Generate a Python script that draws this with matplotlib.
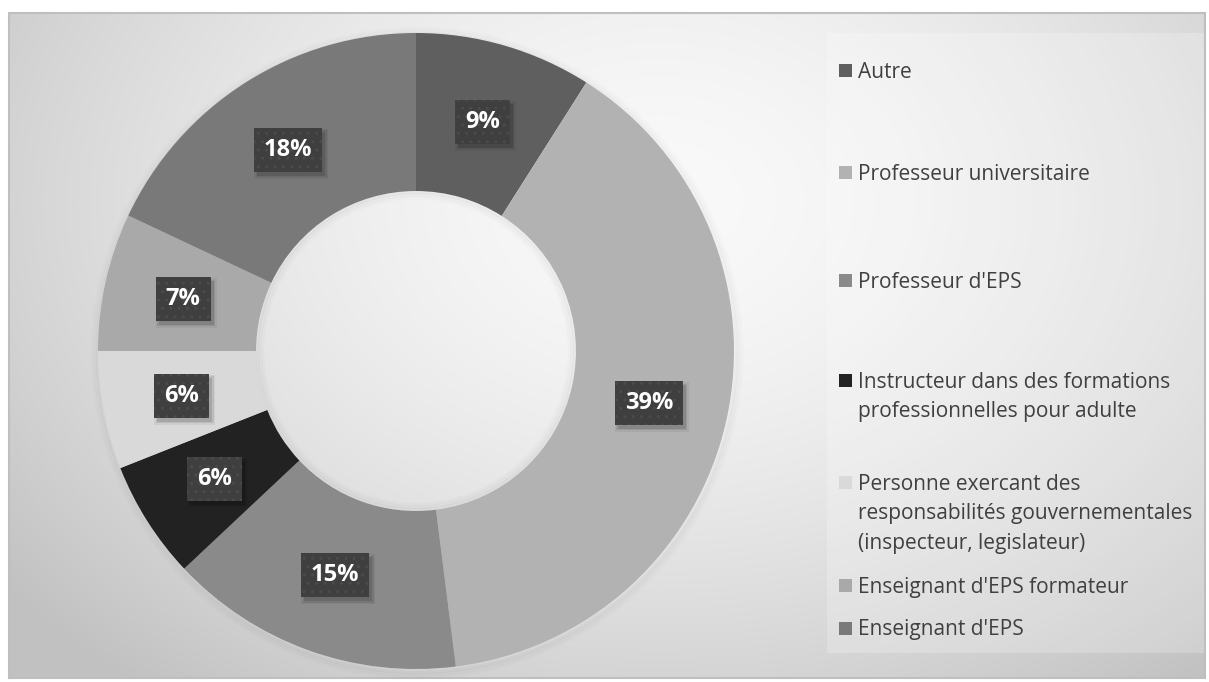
import numpy as np
import matplotlib
matplotlib.use("Agg")
import matplotlib.pyplot as plt
from matplotlib.patches import Rectangle, Circle

categories = [
    "Autre",
    "Professeur universitaire",
    "Professeur d'EPS",
    "Instructeur dans des formations\nprofessionnelles pour adulte",
    "Personne exercant des\nresponsabilités gouvernementales\n(inspecteur, legislateur)",
    "Enseignant d'EPS formateur",
    "Enseignant d'EPS",
]
values = [9, 39, 15, 6, 6, 7, 18]
colors = ["#5f5f5f", "#b2b2b2", "#8a8a8a", "#222222", "#d9d9d9", "#a9a9a9", "#797979"]

W, H = 1209, 682
fig = plt.figure(figsize=(W / 100, H / 100), dpi=100)
fig.patch.set_facecolor("white")
ax = fig.add_axes([0, 0, 1, 1])

# background radial gradient inside border
x0, y0, x1, y1 = 9, 4, 1205, 669  # data coords (y up)
gx = np.linspace(x0, x1, 400)
gy = np.linspace(y0, y1, 250)
GX, GY = np.meshgrid(gx, gy)
cx, cy = 660, 480
d = np.sqrt(((GX - cx) / 700) ** 2 + ((GY - cy) / 520) ** 2)
val = 0.978 - 0.165 * np.clip(d, 0, 1.2) ** 1.6
ax.imshow(np.dstack([val, val, val]), extent=(x0, x1, y0, y1), origin="lower",
          zorder=0, interpolation="bilinear", aspect="auto")
ax.add_patch(Rectangle((x0, y0), x1 - x0, y1 - y0, fill=False, edgecolor="#bfbfbf",
                       linewidth=1.5, zorder=1))

# legend panel
ax.add_patch(Rectangle((827, H - 653), 377, 620, facecolor="white", alpha=0.22,
                       edgecolor="none", zorder=1))

# donut
center = (416, H - 351)
R = 318
wedges, _, autotexts = ax.pie(
    values, colors=colors, startangle=90, counterclock=False,
    radius=R, center=center, frame=True,
    wedgeprops=dict(width=158, edgecolor="none", zorder=3),
    autopct=lambda p: f"{p:.0f}%", pctdistance=0.75,
    textprops=dict(color="white", fontsize=17, fontweight="bold", family="Open Sans"),
)
ax.set_xlim(0, W)
ax.set_ylim(0, H)
ax.set_aspect("equal")
ax.axis("off")

# soft halo around donut
for i, a in enumerate([0.03, 0.02, 0.012]):
    ax.add_patch(Circle((center[0] + 1, center[1] - 2), R + 1.5 + 2.5 * i, facecolor="none",
                        edgecolor="black", alpha=a, linewidth=2.5, zorder=2))
# soft inner shading of hole
for i, a in enumerate([0.04, 0.025, 0.015]):
    ax.add_patch(Circle(center, R - 158 - 1.5 - 2.5 * i, facecolor="none",
                        edgecolor="black", alpha=a, linewidth=2.5, zorder=3))

for t in autotexts:
    t.set_zorder(6)
    t.set_bbox(dict(boxstyle="square,pad=0.42", facecolor="#3f3f3f", edgecolor="#4b4b4b",
                    linewidth=0, hatch=".."))

# legend entries (y of first-line centre, pixels from top)
leg_y = [70, 172, 280, 380, 482, 585, 628]
line_gap = 30
for cat, col, y in zip(categories, colors, leg_y):
    ax.add_patch(Rectangle((839, H - y - 6.5), 13, 13, facecolor=col, edgecolor="none", zorder=4))
    for i, line in enumerate(cat.split("\n")):
        ax.text(858, H - (y + 7.5 + i * line_gap), line, fontsize=15, family="Open Sans",
                color="#404040", ha="left", va="baseline", zorder=4)

# soft drop shadows behind the label boxes
fig.canvas.draw()
renderer = fig.canvas.get_renderer()
inv = ax.transData.inverted()
for t in autotexts:
    bb = t.get_bbox_patch().get_window_extent(renderer)
    (bx0, by0), (bx1, by1) = inv.transform([[bb.x0, bb.y0], [bb.x1, bb.y1]])
    for grow, a in [(3, 0.05), (1.5, 0.08), (0, 0.12)]:
        ax.add_patch(Rectangle((bx0 + 3 - grow, by0 - 4 - grow), (bx1 - bx0) + 2 * grow,
                               (by1 - by0) + 2 * grow, facecolor="black", alpha=a,
                               edgecolor="none", zorder=5))

fig.savefig("out.png", dpi=100)
